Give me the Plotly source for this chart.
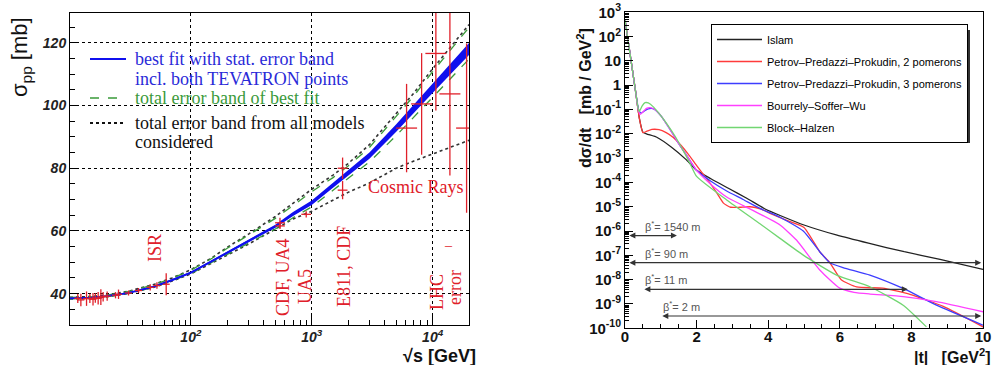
import numpy as np
import plotly.graph_objects as go

W, H = 994, 365

# ---------------- left panel: total pp cross section vs sqrt(s) ----------------
sqrt_s_curve = [10, 15, 20, 30, 50, 70, 100, 150, 200, 300, 500, 700, 1000, 1500, 2000,
                3000, 5000, 7000, 10000, 14000, 20000]
best_fit = [38.5, 38.7, 39.2, 40.2, 42.3, 44.3, 46.7, 50.4, 53.0, 56.8, 61.5, 65.4, 69.0, 74.6,
            78.5, 84.0, 92.8, 99.0, 105.5, 111.6, 118.0]
stat_err = [0.2, 0.2, 0.2, 0.2, 0.25, 0.3, 0.3, 0.35, 0.4, 0.45, 0.5, 0.6, 0.7, 0.8, 0.9,
            1.0, 1.2, 1.3, 1.5, 1.7, 1.9]
fit_err_lo = [38.3, 38.5, 39.0, 40.0, 42.1, 44.1, 46.4, 50.0, 52.5, 56.1, 60.6, 64.2, 67.7, 73.0,
              76.7, 82.0, 90.4, 96.3, 102.5, 108.4, 114.8]
fit_err_hi = [38.8, 39.0, 39.5, 40.6, 42.9, 44.9, 47.5, 51.3, 54.5, 58.6, 64.0, 68.1, 72.5, 77.0,
              80.7, 86.6, 96.6, 103.1, 110.8, 117.6, 124.9]
models_lo = [38.3, 38.5, 39.0, 40.0, 42.1, 44.0, 46.3, 49.8, 52.2, 55.8, 60.6, 63.8, 66.3, 69.8,
             72.3, 75.3, 80.0, 82.3, 84.5, 86.6, 88.9]
models_hi = [38.8, 39.1, 39.6, 40.7, 43.0, 45.0, 47.6, 51.5, 54.8, 59.0, 64.6, 68.8, 73.3, 77.8,
             81.5, 87.5, 97.5, 104.0, 111.7, 118.5, 125.8]

# measurements
low_s = [11.6, 12.3, 13.7, 14.6, 15.5, 16.2, 17.1, 18.0, 18.8, 20.3, 23.8, 25.2, 30.5, 36.9,
         46.1, 52.4, 62.5]
low_sigma = [38.5, 38.0, 38.4, 38.5, 38.2, 38.6, 38.5, 38.9, 39.0, 39.2, 39.5, 39.8, 40.2, 41.0,
             42.0, 42.6, 43.0]
low_err = [1.5, 2.0, 2.3, 1.5, 2.0, 1.5, 2.0, 2.5, 1.5, 1.5, 1.0, 1.5, 0.8, 0.8, 1.0, 1.0, 3.5]

coll_s = [546, 546, 900, 1800, 1800]
coll_sigma = [61.6, 62.6, 65.3, 80.0, 73.0]
coll_err = [1.0, 1.6, 1.0, 3.4, 2.9]

cosmic_s = [6090, 8110, 10640, 13900, 19100]
cosmic_sigma = [92.8, 100.5, 116.6, 103.7, 92.8]
cosmic_err = [14.1, 16.2, 18.2, 26.0, 27.0]

# ---------------- right panel: d sigma / dt vs |t| (log10 values) ----------------
islam_t = [0, 0.1, 0.2, 0.3, 0.4, 0.5, 0.6, 0.9, 1.3, 1.7, 2.0, 2.4, 2.9, 3.4, 3.9, 4.4, 5.0,
           5.9, 6.8, 7.8, 8.8, 10]
islam_log = [2.7, 1.7, 0.7, -0.3, -1.35, -1.93, -2.0, -2.15, -2.55, -3.05, -3.5, -3.85, -4.25,
             -4.65, -5.08, -5.4, -5.75, -6.16, -6.5, -6.85, -7.16, -7.58]

ppp2_t = [0, 0.1, 0.2, 0.3, 0.4, 0.5, 0.6, 0.75, 0.95, 1.15, 1.35, 1.55, 1.75, 1.95, 2.15, 2.35,
          2.55, 2.75, 2.95, 3.2, 3.5, 3.8, 4.1, 4.5, 5.0, 5.44, 5.72, 6.04, 6.47, 7.2, 7.96,
          8.89, 10]
ppp2_log = [2.7, 1.7, 0.7, -0.3, -1.35, -1.95, -1.9, -1.82, -1.83, -1.95, -2.15, -2.45, -2.8,
            -3.2, -3.6, -3.98, -4.4, -4.85, -5.02, -5.02, -5.0, -5.1, -5.3, -5.55, -5.85,
            -6.85, -7.3, -8.0, -8.3, -8.35, -8.6, -9.1, -9.94]

ppp3_t = [0, 0.1, 0.2, 0.3, 0.38, 0.45, 0.55, 0.65, 0.8, 1.0, 1.25, 1.5, 1.75, 2.0, 2.4, 2.84,
          3.3, 3.77, 4.33, 4.98, 5.44, 5.72, 6.09, 6.84, 7.77, 8.7, 10]
ppp3_log = [2.7, 1.7, 0.7, -0.3, -1.0, -1.15, -1.05, -0.97, -0.97, -1.25, -1.8, -2.4, -2.95,
            -3.5, -3.95, -4.35, -4.7, -5.07, -5.43, -6.0, -6.85, -7.3, -7.5, -7.81, -8.36,
            -9.05, -9.87]

bsw_t = [0, 0.1, 0.2, 0.3, 0.36, 0.42, 0.5, 0.6, 0.7, 0.8, 1.0, 1.25, 1.5, 1.75, 2.0, 2.37,
         2.84, 3.3, 3.77, 4.33, 4.79, 5.44, 6.0, 6.4, 6.84, 7.77, 8.7, 10]
bsw_log = [2.7, 1.7, 0.7, -0.3, -0.95, -1.2, -1.1, -0.95, -0.92, -0.97, -1.25, -1.8, -2.4,
           -2.95, -3.5, -4.04, -4.6, -4.95, -5.3, -5.75, -6.37, -7.6, -8.35, -8.52, -8.59,
           -8.7, -8.9, -9.32]

bh_t = [0, 0.1, 0.2, 0.3, 0.36, 0.4, 0.48, 0.56, 0.65, 0.8, 1.0, 1.16, 1.4, 1.63, 1.81, 2.0,
        2.84, 3.77, 4.33, 4.98, 5.91, 6.84, 7.77, 8.42]
bh_log = [2.7, 1.7, 0.7, -0.3, -0.9, -1.08, -0.85, -0.72, -0.73, -0.9, -1.25, -1.57, -2.1,
          -2.7, -3.2, -3.75, -4.72, -5.7, -6.3, -6.99, -7.81, -8.29, -9.05, -9.94]

model_names = ["Islam", "Petrov–Predazzi–Prokudin, 2 pomerons",
               "Petrov–Predazzi–Prokudin, 3 pomerons", "Bourrely–Soffer–Wu", "Block–Halzen"]
model_t = [islam_t, ppp2_t, ppp3_t, bsw_t, bh_t]
model_log = [islam_log, ppp2_log, ppp3_log, bsw_log, bh_log]
model_colors = ["#222222", "#ff3b3b", "#3d3dff", "#ff40ff", "#72d672"]

beta_labels = ["β<sup>*</sup>= 1540 m", "β<sup>*</sup>= 90 m", "β<sup>*</sup>= 11 m",
               "β<sup>*</sup>= 2 m"]
beta_level = [6.5e-7, 5.0e-8, 4.0e-9, 3.2e-10]
beta_t_lo = [0.08, 0.08, 0.5, 1.0]
beta_t_hi = [1.45, 9.95, 7.9, 9.95]

right_tick_vals = [1e-10, 1e-9, 1e-8, 1e-7, 1e-6, 1e-5, 1e-4, 1e-3, 1e-2, 1e-1, 1, 10, 100, 1000]
right_tick_text = ["10<sup>-10</sup>", "10<sup>-9</sup>", "10<sup>-8</sup>", "10<sup>-7</sup>",
                   "10<sup>-6</sup>", "10<sup>-5</sup>", "10<sup>-4</sup>", "10<sup>-3</sup>",
                   "10<sup>-2</sup>", "10<sup>-1</sup>", "1", "10", "10<sup>2</sup>",
                   "10<sup>3</sup>"]
left_xtick_vals = [100, 1000, 10000]
left_xtick_text = ["10<sup>2</sup>", "10<sup>3</sup>", "10<sup>4</sup>"]


def px(x, y):
    return x / W, 1 - y / H


fig = go.Figure()

# ---- left panel traces ----
RED = "#e0202a"
BLUE = "#1010ee"
GREEN = "#3a9a3a"
fig.add_trace(go.Scatter(x=sqrt_s_curve, y=models_hi, mode="lines",
                         line=dict(color="#333333", width=1.6, dash="dot"),
                         xaxis="x", yaxis="y", showlegend=False))
fig.add_trace(go.Scatter(x=sqrt_s_curve, y=models_lo, mode="lines",
                         line=dict(color="#333333", width=1.6, dash="dot"),
                         xaxis="x", yaxis="y", showlegend=False))
fig.add_trace(go.Scatter(x=sqrt_s_curve, y=fit_err_hi, mode="lines",
                         line=dict(color=GREEN, width=1.3, dash="dash"),
                         xaxis="x", yaxis="y", showlegend=False))
fig.add_trace(go.Scatter(x=sqrt_s_curve, y=fit_err_lo, mode="lines",
                         line=dict(color=GREEN, width=1.3, dash="dash"),
                         xaxis="x", yaxis="y", showlegend=False))
band_lo = [b - e for b, e in zip(best_fit, stat_err)]
band_hi = [b + e for b, e in zip(best_fit, stat_err)]
fig.add_trace(go.Scatter(x=sqrt_s_curve, y=band_lo, mode="lines", line=dict(width=0, color=BLUE),
                         xaxis="x", yaxis="y", showlegend=False))
fig.add_trace(go.Scatter(x=sqrt_s_curve, y=band_hi, mode="lines", line=dict(width=0, color=BLUE),
                         fill="tonexty", fillcolor=BLUE, xaxis="x", yaxis="y", showlegend=False))
fig.add_trace(go.Scatter(x=sqrt_s_curve, y=best_fit, mode="lines",
                         line=dict(color=BLUE, width=1.8),
                         xaxis="x", yaxis="y", showlegend=False))

for xs, ys, es, tick in [(low_s, low_sigma, low_err, 5), (coll_s, coll_sigma, coll_err, 7),
                         (cosmic_s, cosmic_sigma, cosmic_err, 15)]:
    fig.add_trace(go.Scatter(
        x=xs, y=ys, mode="markers",
        marker=dict(symbol="line-ew", size=tick, line=dict(color=RED, width=1.3), color=RED),
        error_y=dict(type="data", array=es, visible=True, color=RED, thickness=1.3, width=0),
        xaxis="x", yaxis="y", showlegend=False, cliponaxis=True))

# ---- right panel traces ----
for name, t, lg, col in zip(model_names, model_t, model_log, model_colors):
    fig.add_trace(go.Scatter(
        x=t, y=np.power(10.0, lg), mode="lines", name=name,
        line=dict(color=col, width=1.3, shape="spline", smoothing=0.5),
        xaxis="x2", yaxis="y2", legendgroup=name, showlegend=True))

annotations = []
shapes = []

# left key
key_lines = [(59, BLUE, "solid", 2.2, 126), (98, GREEN, "dash", 1.5, 126), (123, "#111111", "dot", 2.0, 123)]
for y, col, dash, w, xend in key_lines:
    x0, y0 = px(90, y)
    x1, _ = px(xend, y)
    shapes.append(dict(type="line", xref="paper", yref="paper", x0=x0, x1=x1, y0=y0, y1=y0,
                       line=dict(color=col, width=w, dash=dash)))
key_text = [("best fit with stat. error band", 59, "#2a2ad8"),
            ("incl. both TEVATRON points", 78.5, "#2a2ad8"),
            ("total error band of best fit", 98, GREEN),
            ("total error band from all models", 123, "#111111"),
            ("considered", 142, "#111111")]
for txt, y, col in key_text:
    xx, yy = px(133, y)
    annotations.append(dict(text=txt, x=xx, y=yy, xref="paper", yref="paper", showarrow=False,
                            xanchor="left", yanchor="middle", align="left",
                            font=dict(family="Liberation Serif", size=18, color=col)))

# legend shadow of the right-panel key (ROOT style)
sx0, sy0 = px(714, 143)
sx1, sy1 = px(970, 30)
shapes.append(dict(type="rect", xref="paper", yref="paper", x0=sx0, x1=sx1, y0=sy0, y1=sy1,
                   line=dict(width=0), fillcolor="#333333", layer="above"))

# red experiment labels
red_labels = [("ISR", 155, 248, -90), ("CDF, UA4", 283, 277, -90), ("UA5", 305, 287, -90),
              ("E811, CDF", 344, 267, -90), ("LHC", 437, 292, -90), ("error", 455, 288, -90),
              ("Cosmic Rays", 415.5, 187, 0)]
for txt, x, y, ang in red_labels:
    xx, yy = px(x, y)
    annotations.append(dict(text=txt, x=xx, y=yy, xref="paper", yref="paper", showarrow=False,
                            textangle=ang, xanchor="center", yanchor="middle",
                            font=dict(family="Liberation Serif", size=18, color=RED)))
xx, yy = px(448, 245)
annotations.append(dict(text="–", x=xx, y=yy, xref="paper", yref="paper", showarrow=False,
                        xanchor="center", yanchor="middle",
                        font=dict(family="Liberation Serif", size=14, color=RED)))

# axis titles
xx, yy = px(21, 57)
annotations.append(dict(text="σ<sub>pp</sub> [mb]", x=xx, y=yy, xref="paper", yref="paper",
                        showarrow=False, textangle=-90, xanchor="center", yanchor="middle",
                        font=dict(family="Liberation Sans", size=22, color="#111111")))
xx, yy = px(478, 356)
annotations.append(dict(text="√s [GeV]", x=xx, y=yy, xref="paper", yref="paper",
                        showarrow=False, xanchor="right", yanchor="middle",
                        font=dict(family="Liberation Sans", size=18, color="#111111", weight="bold")))
xx, yy = px(584, 98)
annotations.append(dict(text="dσ/dt   [mb / GeV<sup>2</sup>]", x=xx, y=yy, xref="paper", yref="paper",
                        showarrow=False, textangle=-90, xanchor="center", yanchor="middle",
                        font=dict(family="Liberation Sans", size=16, color="#111111", weight="bold")))
xx, yy = px(993, 356)
annotations.append(dict(text="|t|   [GeV<sup>2</sup>]", x=xx, y=yy, xref="paper", yref="paper",
                        showarrow=False, xanchor="right", yanchor="middle",
                        font=dict(family="Liberation Sans", size=16, color="#111111", weight="bold")))

# beta* arrows
for lab, lev, t0, t1 in zip(beta_labels, beta_level, beta_t_lo, beta_t_hi):
    ly = float(np.log10(lev))
    annotations.append(dict(x=t1, y=ly, ax=t0, ay=ly, xref="x2", yref="y2", axref="x2", ayref="y2",
                            text="", showarrow=True, arrowhead=2, startarrowhead=2,
                            arrowside="end+start", arrowsize=1, arrowwidth=1.2, arrowcolor="#333333"))
    annotations.append(dict(x=t0 if t0 > 0.3 else 0.5, y=ly, xref="x2", yref="y2", text=lab,
                            showarrow=False, xanchor="left", yanchor="bottom", yshift=1,
                            font=dict(family="Liberation Sans", size=11, color="#555555")))

axis_common = dict(showline=True, linecolor="black", linewidth=1, mirror=True, ticks="inside",
                   tickcolor="black", zeroline=False, automargin=False)

fig.update_layout(
    width=W, height=H, margin=dict(l=0, r=0, t=0, b=0, autoexpand=False),
    paper_bgcolor="white", plot_bgcolor="white",
    xaxis=dict(type="log", range=[1.0, 4.301], domain=[70 / W, 469 / W], anchor="y",
               tickmode="array", tickvals=left_xtick_vals, ticktext=left_xtick_text,
               ticklen=9, showgrid=True, gridcolor="black", griddash="dot", gridwidth=1,
               ticklabelstandoff=-1,
               minor=dict(ticks="inside", ticklen=5, tickcolor="black", dtick="D1", showgrid=False),
               tickfont=dict(family="Liberation Sans", size=14, weight="bold", style="italic",
                             color="#222222"),
               **axis_common),
    yaxis=dict(range=[30, 129.5], domain=[1 - 325 / H, 1 - 13 / H], anchor="x",
               tick0=0, dtick=20, ticklen=9, showgrid=True, gridcolor="black", griddash="dot",
               gridwidth=1,
               minor=dict(ticks="inside", ticklen=5, tickcolor="black", dtick=5, showgrid=False),
               tickfont=dict(family="Liberation Sans", size=14, weight="bold", style="italic",
                             color="#222222"),
               **axis_common),
    xaxis2=dict(range=[0, 10], domain=[625 / W, 983 / W], anchor="y2", dtick=2, ticklen=8,
                showgrid=False, ticklabelstandoff=-5,
                minor=dict(ticks="inside", ticklen=4, tickcolor="black", dtick=0.5),
                tickfont=dict(family="Liberation Sans", size=15, weight="bold", color="#111111"),
                **axis_common),
    yaxis2=dict(type="log", range=[-10, 3], domain=[1 - 328.3 / H, 1 - 12.3 / H], anchor="x2",
                tickmode="array", tickvals=right_tick_vals, ticktext=right_tick_text, ticklen=8,
                showgrid=False,
                minor=dict(ticks="inside", ticklen=4, tickcolor="black", dtick="D1"),
                tickfont=dict(family="Liberation Sans", size=15, weight="bold", color="#111111"),
                **axis_common),
    legend=dict(x=711 / W, y=1 - 24 / H, xanchor="left", yanchor="top", bgcolor="white",
                bordercolor="black", borderwidth=1, tracegroupgap=3, itemwidth=45,
                font=dict(family="Liberation Sans", size=11, color="black")),
    annotations=annotations, shapes=shapes,
)

fig.write_html("out.html", config={"displayModeBar": False},
               post_script="document.body.style.margin='0px';document.body.style.overflow='hidden';")
